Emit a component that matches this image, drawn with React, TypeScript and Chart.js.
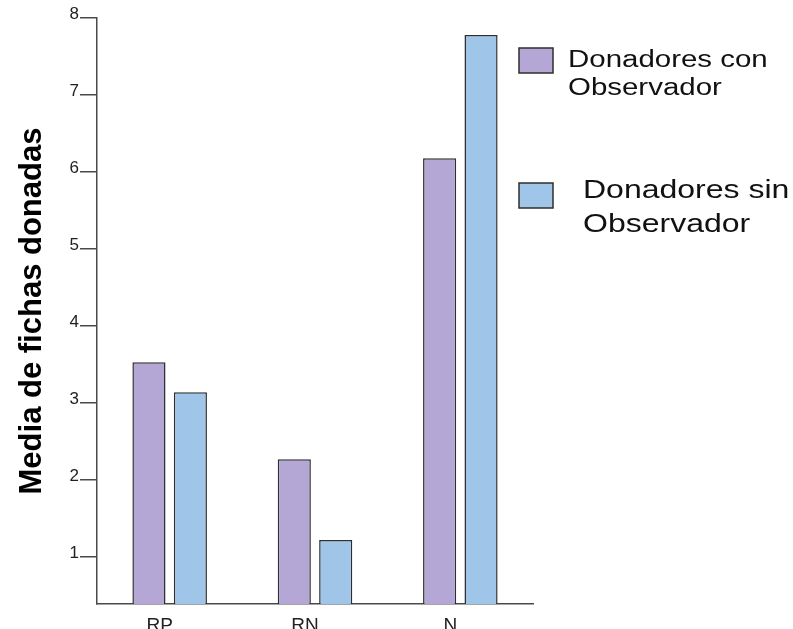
import React, { useEffect, useRef } from "react";
import { Chart, registerables } from "chart.js";

Chart.register(...registerables);

const categories = ["RP", "RN", "N"];
const conObservador = [3.53, 2.27, 6.18];
const sinObservador = [3.14, 1.22, 7.78];
const seriesLabels = [
  ["Donadores con", "Observador"],
  ["Donadores sin", "Observador"],
];
const yTicks = [1, 2, 3, 4, 5, 6, 7, 8];
const yMin = 0.39;
const yMax = 8;
const yTitle = "Media de fichas donadas";

const purple = "#b4a7d6";
const blue = "#9fc5e8";
const edge = "#2e2e2e";
const axisColor = "#4a4a4a";

const legendLayout = [
  { box: [519, 48, 34, 25], textX: 568, baselines: [67, 95], font: 23 },
  { box: [519, 183, 34, 25], textX: 583, baselines: [198, 232], font: 25 },
];

const sideLegend = {
  id: "sideLegend",
  afterDraw(chart: any) {
    const ctx = chart.ctx;
    ctx.save();
    chart.data.datasets.forEach((ds: any, i: number) => {
      const L = legendLayout[i];
      const [bx, by, bw, bh] = L.box;
      ctx.fillStyle = ds.backgroundColor;
      ctx.fillRect(bx, by, bw, bh);
      ctx.lineWidth = 1.5;
      ctx.strokeStyle = edge;
      ctx.strokeRect(bx, by, bw, bh);
      ctx.fillStyle = "#111";
      ctx.font = `${L.font}px "Liberation Sans", Arial, sans-serif`;
      ctx.textBaseline = "alphabetic";
      ctx.textAlign = "left";
      seriesLabels[i].forEach((line, j) => {
        ctx.save();
        ctx.translate(L.textX, L.baselines[j]);
        ctx.scale(1.28, 1);
        ctx.fillText(line, 0, 0);
        ctx.restore();
      });
    });
    ctx.restore();
  },
};

export default function App() {
  const ref = useRef<HTMLCanvasElement>(null);
  useEffect(() => {
    if (!ref.current) return;
    const chart = new Chart(ref.current, {
      type: "bar",
      data: {
        labels: categories,
        datasets: [
          {
            label: seriesLabels[0].join(" "),
            data: conObservador,
            backgroundColor: purple,
            borderColor: edge,
            borderWidth: 1.5,
          },
          {
            label: seriesLabels[1].join(" "),
            data: sinObservador,
            backgroundColor: blue,
            borderColor: edge,
            borderWidth: 1.5,
          },
        ],
      },
      options: {
        animation: false,
        responsive: false,
        maintainAspectRatio: false,
        datasets: {
          bar: { categoryPercentage: 0.57, barPercentage: 0.8 },
        },
        layout: { padding: { left: 0, top: 18, right: 260, bottom: 0 } },
        plugins: {
          legend: { display: false },
          tooltip: { enabled: false },
        },
        scales: {
          x: {
            type: "category",
            offset: true,
            grid: { display: false, drawTicks: false },
            border: { display: true, color: axisColor, width: 1.5 },
            ticks: {
              padding: 10,
              labelOffset: -10,
              color: "#222",
              font: { family: '"Liberation Sans", Arial, sans-serif', size: 19 },
            },
            afterFit: (s: any) => {
              s.height = 25;
            },
          },
          y: {
            type: "linear",
            min: yMin,
            max: yMax,
            afterBuildTicks: (s: any) => {
              s.ticks = yTicks.map((v) => ({ value: v }));
            },
            grid: {
              drawOnChartArea: false,
              drawTicks: true,
              tickLength: 17,
              color: axisColor,
              lineWidth: 1.5,
            },
            border: { display: true, color: axisColor, width: 1.5 },
            ticks: {
              padding: 1,
              labelOffset: -4,
              color: "#222",
              font: { family: '"Liberation Sans", Arial, sans-serif', size: 17 },
            },
            title: {
              display: true,
              text: yTitle,
              color: "#000",
              padding: { top: 14, bottom: 0 },
              font: {
                family: '"Liberation Sans", Arial, sans-serif',
                size: 31,
                weight: "bold",
              },
            },
            afterFit: (s: any) => {
              s.width = 97;
            },
          },
        },
      },
      plugins: [sideLegend],
    });
    return () => chart.destroy();
  }, []);
  return (
    <div style={{ position: "fixed", left: 0, top: 0, width: 793, height: 629, background: "#fff" }}>
      <canvas ref={ref} width={793} height={629} style={{ display: "block", width: 793, height: 629 }} />
    </div>
  );
}
